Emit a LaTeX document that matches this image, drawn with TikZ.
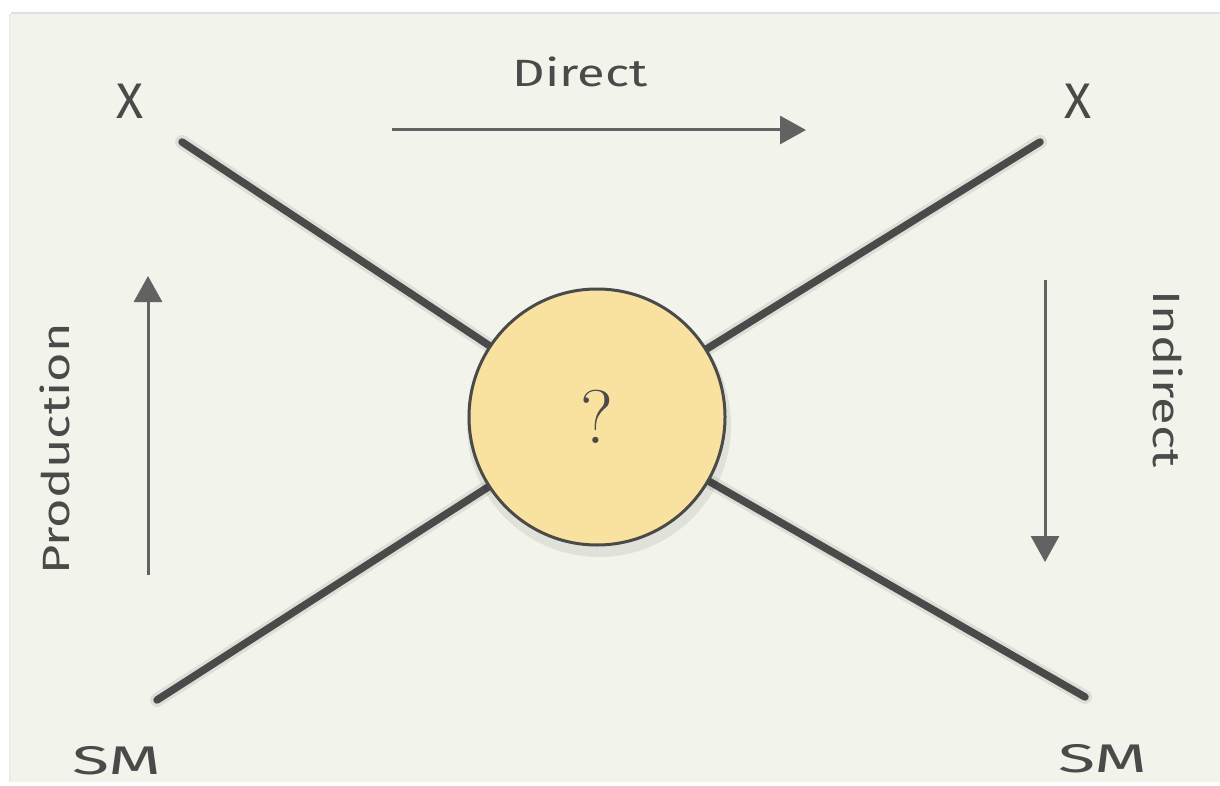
\documentclass[tikz,border=0pt]{standalone}
\usepackage{fontspec}
\setmainfont{Fira Sans}
\newfontfamily\qfont{Latin Modern Roman}
\usetikzlibrary{arrows.meta}
\definecolor{paper}{HTML}{F2F3EA}
\definecolor{ink}{HTML}{4A4A4A}
\definecolor{arrowink}{HTML}{626262}
\definecolor{blob}{HTML}{F9E1A0}
\tikzset{
  leg/.style={line width=7.5pt, ink, line cap=round},
  legshadow/.style={line width=14pt, black, opacity=0.08, line cap=round},
  flow/.style={line width=3pt, arrowink, -{Triangle[length=26pt,width=28pt]}},
  lbl/.style={text=ink, inner sep=0pt, font=\fontsize{38}{42}\selectfont},
  big/.style={text=ink, inner sep=0pt, font=\fontsize{50}{54}\selectfont},
  sm/.style={text=ink, inner sep=0pt, font=\fontsize{40}{44}\selectfont},
}
\newcommand{\wide}[1]{\scalebox{1.33}[1]{#1}}
\begin{document}
\begin{tikzpicture}[x=1pt,y=-1pt]
\useasboundingbox (0,0) rectangle (1220,786);
\fill[white] (0,0) rectangle (1220,786);
\fill[paper] (11,14) rectangle (1220,782);
\draw[black!12, line width=1.5pt] (11,13) -- (1220,13);
\draw[black!8, line width=1.5pt] (10,14) -- (10,782);

\node[circle, minimum size=256pt, inner sep=0pt] (c) at (597,417) {};
\coordinate (tl) at (182,142);
\coordinate (tr) at (1040,142);
\coordinate (bl) at (157,700);
\coordinate (br) at (1085,697);

% shadows
\begin{scope}[shift={(2,10)}]
\draw[legshadow] (tl) -- (c.center);
\draw[legshadow] (tr) -- (c.center);
\draw[legshadow] (bl) -- (c.center);
\draw[legshadow] (br) -- (c.center);
\end{scope}

\draw[leg] (tl) -- (c);
\draw[leg] (tr) -- (c);
\draw[leg] (bl) -- (c);
\draw[leg] (br) -- (c);

\fill[black, opacity=0.07] (599,425) circle (132pt);
\node[circle, minimum size=256pt, inner sep=0pt, fill=blob, draw=ink, line width=3pt,
      font=\qfont\fontsize{76}{80}\selectfont, text=ink] (blobnode) at (597,417) {?};

% labels
\node[big] (xl) at (130,101) {X};
\node[big] (xr) at (1078,101) {X};
\node[sm] (sml) at (117,761) {\scalebox{1.7}[1]{SM}};
\node[sm] (smr) at (1103,759) {\scalebox{1.7}[1]{SM}};
\node[lbl] (dir) at (580,72) {\wide{Direct}};
\node[lbl, rotate=90] (prod) at (55,449) {\wide{Production}};
\node[lbl, rotate=-90] (ind) at (1168,379) {\wide{Indirect}};

% arrows
\coordinate (d1) at (392,130);
\coordinate (d2) at (806,130);
\coordinate (p1) at (148,575);
\coordinate (p2) at (148,276);
\coordinate (i1) at (1045,280);
\coordinate (i2) at (1045,562);
\draw[flow] (d1) -- (d2);
\draw[flow] (p1) -- (p2);
\draw[flow] (i1) -- (i2);
\end{tikzpicture}
\end{document}
